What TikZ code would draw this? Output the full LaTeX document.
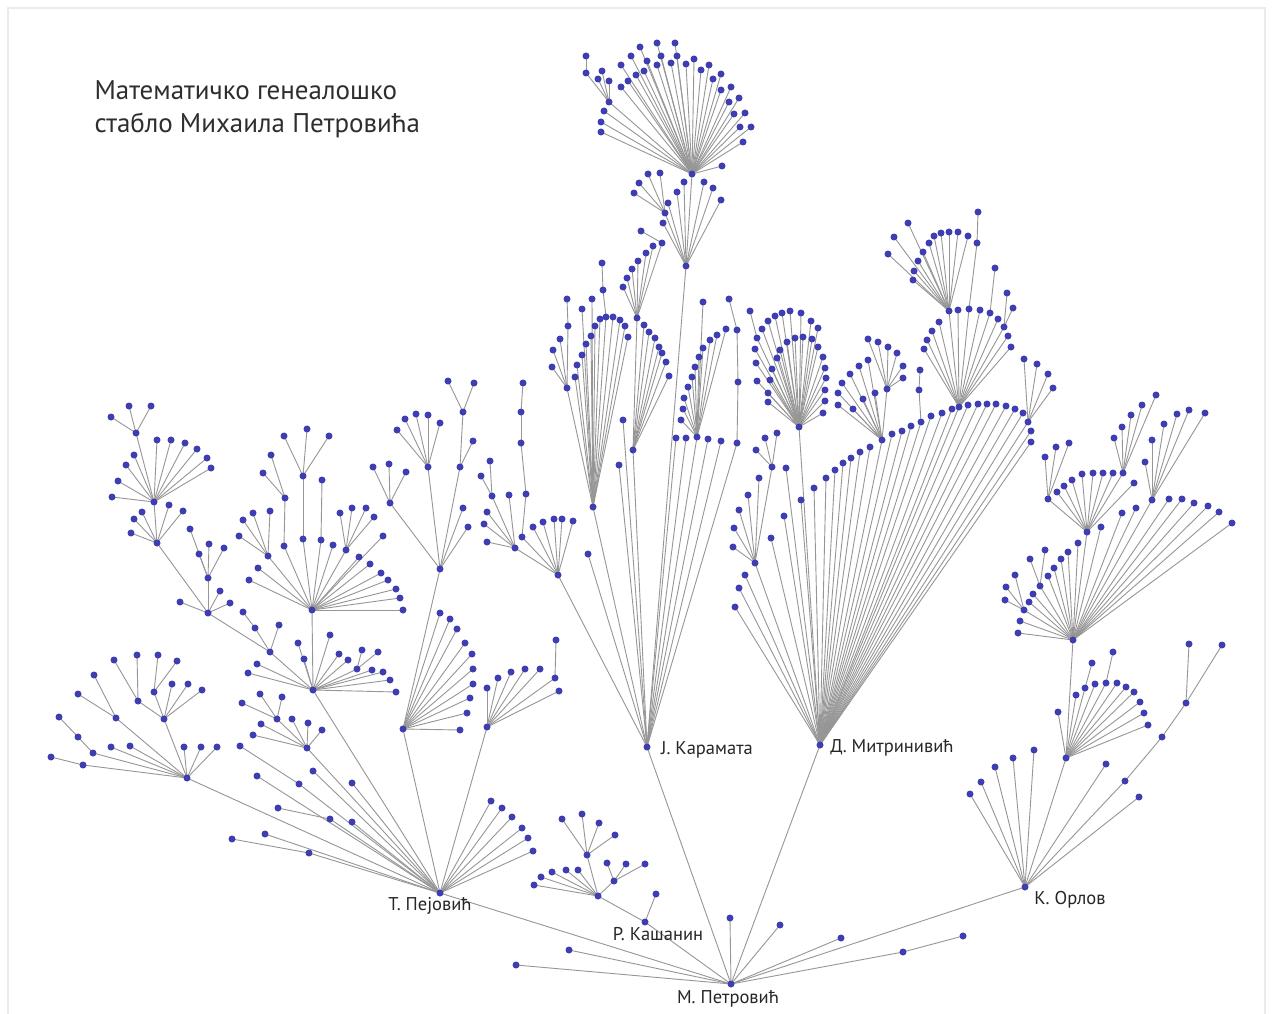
\documentclass[tikz,border=0pt]{standalone}
\usepackage{fontspec}
\setmainfont{PT Sans}
\definecolor{dotblue}{RGB}{62,62,178}
\definecolor{edgegray}{RGB}{150,150,150}
\tikzset{
  dot/.style={circle, fill=dotblue, inner sep=0pt, minimum size=7pt},
  edge/.style={draw=edgegray, line width=0.9pt},
  lbl/.style={font=\fontsize{18.5}{20}\selectfont, text=black!85},
  ttl/.style={font=\fontsize{27}{33}\selectfont, text=black!82, anchor=base west}
}
\newcommand\treebody{%
\nd{pej}{root}{440}{893}
\nd{kas}{root}{645}{922}
\nd{kar}{root}{647}{747}
\nd{mit}{root}{820}{745}
\nd{orl}{root}{1025}{887}
\fan{root}{730/918, 780/925, 841/938, 569/950, 516/965}
\nd{r1}{root}{903}{952}
\fan{r1}{963/936}
% Kasanin
\fan{kas}{656/894}
\nd{k1}{kas}{598}{896}
\fan{k1}{534/885, 541/877, 552/872, 566/870, 578/870}
\nd{k2}{k1}{587}{855}
\fan{k2}{562/819, 582/814, 599/823, 615/835}
\nd{k3}{k1}{614}{881}
\fan{k3}{607/863, 626/864, 645/864}
% Pejovic
\fan{pej}{491/801, 502/808, 512/817, 522/828, 528/838, 533/851, 352/783, 352/822, 313/771, 257/776, 265/834}
\nd{p1}{pej}{299}{784} \fan{p1}{240/746}
\nd{p2}{pej}{330}{819} \fan{p2}{278/808}
\nd{p3}{pej}{309}{853} \fan{p3}{232/839}
\nd{A}{pej}{187}{778}
\fan{A}{184/747, 201/747, 217/747, 111/747, 130/746}
\nd{A1}{A}{164}{719}
\fan{A1}{172/684, 188/684, 202/690}
\nd{A11}{A1}{138}{701} \fan{A11}{114/660, 137/655}
\nd{A12}{A1}{154}{692} \fan{A12}{158/655, 177/661}
\nd{A2}{A}{116}{718} \fan{A2}{94/675, 78/694}
\nd{A3}{A}{93}{753} \nd{A31}{A3}{78}{737} \fan{A31}{59/717}
\nd{A4}{A}{83}{765} \fan{A4}{51/757}
\nd{H8}{pej}{307}{748}
\fan{H8}{292/719, 308/723, 322/730, 261/724, 253/735}
\nd{H81}{H8}{277}{719} \fan{H81}{242/703, 260/694, 282/697}
\nd{H7}{pej}{313}{690}
\fan{H7}{257/664, 248/673, 298/643, 304/659, 330/635, 339/654, 348/660, 372/670, 383/672, 390/680, 396/692}
\nd{H71}{H7}{357}{669} \fan{H71}{362/650, 378/652}
\nd{H5}{H7}{270}{652} \fan{H5}{279/625}
\nd{H51}{H5}{255}{628} \fan{H51}{243/612}
\nd{H4}{H5}{208}{613} \fan{H4}{180/602, 220/591, 230/603}
\nd{H41}{H4}{208}{578} \fan{H41}{190/529, 199/554, 209/544, 224/548}
\nd{H3}{H4}{157}{543} \fan{H3}{142/512, 169/505, 183/511, 134/519, 131/533}
\nd{H2}{H3}{154}{502} \fan{H2}{157/440, 171/440, 185/443, 197/449, 207/458, 211/468, 134/455, 126/465, 118/481, 112/497}
\nd{H1}{H2}{136}{433} \fan{H1}{111/417, 129/406, 151/406}
\nd{H6}{H7}{312}{610}
\fan{H6}{249/580, 258/568, 333/545, 383/536, 359/557, 370/564, 381/573, 388/580, 396/589, 400/598, 403/610}
\nd{H61}{H6}{268}{556} \fan{H61}{239/536, 243/520, 253/513, 270/511}
\nd{H62}{H6}{284}{546} \nd{H621}{H62}{285}{498} \fan{H621}{263/473, 271/455}
\nd{H63}{H6}{303}{539} \nd{H631}{H63}{303}{476} \fan{H631}{284/436, 307/429, 329/436}
\nd{H64}{H6}{321}{540} \fan{H64}{322/480}
\nd{H65}{H6}{346}{550} \fan{H65}{340/513, 352/508, 366/508, 374/517}
\nd{P4}{pej}{403}{729}
\fan{P4}{440/613, 450/619, 457/629, 465/643, 472/654, 473/669, 473/684, 470/698, 467/713, 460/730}
\nd{P5}{P4}{440}{569}
\fan{P5}{463/508, 468/527}
\nd{P51}{P5}{390}{503} \fan{P51}{373/467, 389/464, 406/472}
\nd{P52}{P5}{428}{467} \fan{P52}{397/430, 405/419, 416/414, 428/415, 440/423}
\nd{P53}{P5}{460}{467} \fan{P53}{473/441}
\nd{P531}{P53}{463}{412} \fan{P531}{448/381, 474/383}
\nd{P6}{pej}{487}{727}
\fan{P6}{487/688, 498/678, 511/672, 525/669, 540/669, 559/691}
\nd{P61}{P6}{555}{678} \fan{P61}{556/640}
% Karamata
\fan{kar}{588/554, 619/465, 623/420, 676/438, 686/438, 708/439, 721/441}
\nd{K1}{kar}{558}{575}
\fan{K1}{533/527, 543/522, 554/519, 562/519, 573/521}
\nd{K11}{K1}{522}{537} \nd{K12}{K11}{526}{494} \nd{K13}{K12}{521}{443} \nd{K14}{K13}{521}{412} \fan{K14}{523/383}
\nd{K15}{K1}{515}{548} \fan{K15}{484/524, 487/542, 487/512, 509/495}
\nd{K16}{K15}{492}{496} \fan{K16}{490/461, 481/476}
\nd{K2}{kar}{593}{507}
\fan{K2}{575/377, 577/365, 582/355, 586/344, 591/336, 595/326, 600/319, 613/317, 620/320, 625/326, 628/337, 582/309, 592/299}
\nd{K21}{K2}{606}{317} \nd{K22}{K21}{603}{290} \fan{K22}{602/263}
\nd{K23}{K2}{567}{388} \fan{K23}{560/339, 553/350, 552/367}
\nd{K24}{K23}{568}{326} \fan{K24}{567/299}
\nd{K3}{kar}{633}{450}
\fan{K3}{644/325, 649/332, 655/338, 659/347, 662/353, 666/362, 669/376}
\nd{K31}{K3}{637}{318}
\fan{K31}{623/287, 627/278, 632/269, 638/261, 646/253, 653/246}
\nd{K32}{K31}{662}{243} \fan{K32}{641/231}
\nd{K4}{kar}{697}{437}
\fan{K4}{681/420, 683/409, 684/398, 688/387, 692/377, 695/367, 699/357, 703/348, 710/340, 717/335, 726/329, 703/302}
\nd{K5}{kar}{737}{443} \nd{K51}{K5}{738}{382} \nd{K52}{K51}{737}{330} \fan{K52}{729/299}
\nd{K6}{kar}{686}{266}
\fan{K6}{663/223, 668/203, 677/192, 684/182, 704/182, 713/188, 721/200}
\nd{K61}{K6}{665}{213} \fan{K61}{634/193, 639/183, 648/174, 660/173}
\nd{T}{K6}{692}{174}
\fan{T}{601/132, 601/122, 604/111, 621/87, 628/81, 636/75, 644/71, 657/65, 671/63, 686/64, 694/59, 701/70, 709/65, 713/79, 721/74, 721/90, 731/87, 729/102, 739/98, 734/114, 745/113, 740/127, 751/127, 743/142, 722/166, 621/65, 631/56, 640/47, 647/61, 657/43, 661/56, 675/43, 677/56}
\nd{T1}{T}{609}{102} \fan{T1}{598/79, 602/71, 609/81}
\nd{T11}{T1}{586}{73} \fan{T11}{586/56}
% Mitrinovic
\fan{mit}{735/607, 739/588, 745/575, 771/538, 784/516, 786/468, 801/500, 814/488, 826/478, 835/470, 843/463, 851/458, 860/452, 870/447, 892/434, 902/431, 911/426, 931/416, 942/413, 952/409, 968/405, 978/404, 987/404, 996/404, 1006/406, 1015/409, 1023/413, 1031/431, 1031/442}
\nd{M1}{mit}{755}{563} \fan{M1}{733/547, 734/528, 739/510, 748/495, 759/478}
\nd{M2}{M1}{772}{467} \fan{M2}{756/450, 765/438, 777/433}
\nd{M3}{mit}{799}{427}
\fan{M3}{757/381, 756/363, 755/349, 762/329, 768/321, 775/316, 782/313, 790/311, 801/313, 811/321, 818/328, 768/402, 768/393, 770/380, 772/369, 777/358, 780/350, 787/342, 795/338, 803/337, 812/339, 818/347, 823/357, 825/368, 826/378, 825/390, 825/401, 823/413}
\nd{M31}{M3}{757}{338} \fan{M31}{750/311}
\nd{M4}{mit}{882}{440}
\fan{M4}{838/405, 838/393, 842/383, 850/374, 859/366, 868/360, 875/393, 863/399, 853/409}
\nd{M41}{M4}{887}{389} \fan{M41}{868/339, 878/342, 888/347, 897/353, 903/366, 903/378}
\nd{M5}{mit}{921}{422} \nd{M51}{M5}{919}{390} \fan{M51}{920/370}
\nd{M6}{mit}{959}{407}
\fan{M6}{924/349, 927/340, 932/331, 939/322, 958/310, 980/310, 998/319, 1008/336, 1011/347}
\nd{M61}{M6}{949}{311}
\fan{M61}{908/223, 894/237, 888/254, 914/271, 913/280, 918/261, 923/252, 929/243, 934/236, 941/233, 949/232, 958/232, 968/236}
\nd{M62}{M6}{969}{309} \nd{M621}{M62}{977}{243} \fan{M621}{978/212}
\nd{M63}{M6}{990}{313} \fan{M63}{995/268}
\nd{M64}{M6}{1004}{327} \fan{M64}{1013/308, 1007/293}
\nd{M7}{mit}{1028}{422} \fan{M7}{1024/359, 1037/364, 1048/374, 1053/388}
% Orlov
\fan{orl}{970/794, 981/782, 995/767, 1013/758, 1034/750, 1106/764, 1139/797}
\nd{O1}{orl}{1125}{781} \nd{O2}{O1}{1162}{737} \nd{O3}{O2}{1186}{703} \fan{O3}{1189/644, 1222/645}
\nd{O4}{orl}{1066}{758}
\fan{O4}{1058/712, 1076/695, 1095/684, 1117/683, 1126/687, 1134/692, 1140/702, 1144/713, 1148/725}
\nd{O41}{O4}{1085}{688} \fan{O41}{1092/663}
\nd{O42}{O4}{1106}{683} \fan{O42}{1113/652}
\nd{O5}{O4}{1073}{640}
\fan{O5}{1018/633, 1020/621, 1029/602, 1033/594, 1048/576, 1054/568, 1061/559, 1068/552, 1078/543, 1101/527, 1122/513, 1136/508, 1169/499, 1182/499, 1194/503, 1208/506, 1219/512, 1232/523}
\nd{O51}{O5}{1024}{610} \fan{O51}{1005/600, 1006/587, 1015/575}
\nd{O52}{O5}{1040}{586} \fan{O52}{1030/559, 1045/550}
\nd{O53}{O5}{1087}{532} \fan{O53}{1057/492, 1064/486, 1072/480, 1082/474, 1093/473, 1103/473, 1113/473, 1134/483}
\nd{O531}{O53}{1048}{499} \fan{O531}{1045/457, 1056/447, 1069/443}
\nd{O532}{O53}{1123}{473} \fan{O532}{1114/438, 1122/427, 1131/415, 1142/405, 1156/395}
\nd{O54}{O5}{1152}{500} \fan{O54}{1145/462, 1152/440, 1164/424, 1177/414, 1189/410, 1205/413}
}
\begin{document}
\begin{tikzpicture}[x=1pt,y=-1pt]
\useasboundingbox (0,0) rectangle (1272,1014);
\fill[white] (0,0) rectangle (1272,1014);
\draw[black!8, line width=1.5pt] (8,1020) -- (8,8) -- (1265,8) -- (1265,1020);
\node[ttl] (title1) at (91,100) {Математичко генеалошко};
\node[ttl] (title2) at (91,133) {стабло Михаила Петровића};
% pass 1: positions and connectors
\def\nd#1#2#3#4{\coordinate (#1) at (#3,#4); \draw[edge] (#2) -- (#1);}
\def\fan#1#2{\foreach \xx/\yy [count=\ii] in {#2}{\coordinate (#1-\ii) at (\xx,\yy); \draw[edge] (#1) -- (#1-\ii);}}
\coordinate (root) at (731,984);
\treebody
% pass 2: the nodes themselves, on top
\def\nd#1#2#3#4{\node[dot] (#1) at (#3,#4) {};}
\def\fan#1#2{\foreach \xx/\yy [count=\ii] in {#2}{\node[dot] (#1-\ii) at (\xx,\yy) {};}}
\node[dot] (root) at (731,984) {};
\treebody
% labels
\node[lbl] (lroot) at (728,999) {М. Петровић};
\node[lbl] (lpej) at (430,906) {Т. Пејовић};
\node[lbl] (lkas) at (658,934) {Р. Кашанин};
\node[lbl] (lkar) at (707,750) {Ј. Карамата};
\node[lbl] (lmit) at (892,748) {Д. Митринивић};
\node[lbl] (lorl) at (1070,900) {К. Орлов};
\end{tikzpicture}
\end{document}
